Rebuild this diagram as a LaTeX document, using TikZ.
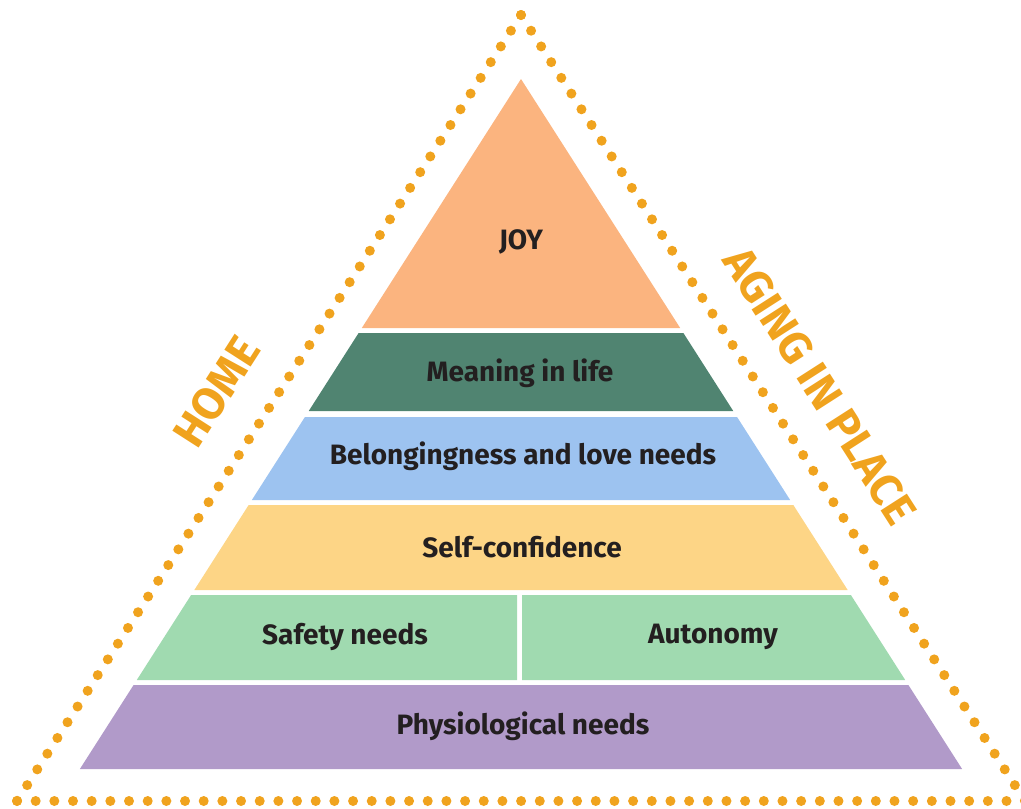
\documentclass[tikz,border=0pt]{standalone}
\usepackage{fontspec}
\setmainfont{Fira Sans}
\usetikzlibrary{positioning, calc}

\definecolor{dotorange}{RGB}{240,163,30}
\definecolor{joycol}{RGB}{251,180,127}
\definecolor{meaningcol}{RGB}{80,132,113}
\definecolor{belongcol}{RGB}{157,195,240}
\definecolor{selfcol}{RGB}{253,213,134}
\definecolor{safetycol}{RGB}{160,218,176}
\definecolor{physcol}{RGB}{177,154,201}
\definecolor{textdark}{RGB}{35,31,32}

\def\slope{0.6393}

\begin{document}
\begin{tikzpicture}[x=1pt, y=-1pt,
    layertext/.style={font=\bfseries\fontsize{28}{32}\selectfont, text=textdark},
    sidelabel/.style={font=\bfseries\fontsize{45}{50}\selectfont, text=dotorange, inner sep=0pt},
    dotline/.style={dotorange, line width=10pt, line cap=round, dash pattern=on 0pt off 18.67pt}]
    \useasboundingbox (0,0) rectangle (1021,809);

    % Dotted frame
    \coordinate (apex) at (521,15);
    \coordinate (bl) at (17,801);
    \coordinate (br) at (1025,801);
    \draw[dotline] (apex) -- (bl);
    \draw[dotline] (apex) -- (br);
    \draw[dotline] (bl) -- (br);

    % Top layer
    \fill[joycol] (521,79) -- ({521+\slope*249},328) -- ({521-\slope*249},328) -- cycle;

    % Full-width layers
    \foreach \ytop/\ybot/\col in {333/411/meaningcol, 417/500/belongcol, 505/590/selfcol, 685/769/physcol}
        \fill[\col] ({521-\slope*(\ytop-79)},\ytop) -- ({521+\slope*(\ytop-79)},\ytop)
            -- ({521+\slope*(\ybot-79)},\ybot) -- ({521-\slope*(\ybot-79)},\ybot) -- cycle;

    % Split layer
    \fill[safetycol] ({521-\slope*516},595) -- (517,595) -- (517,680) -- ({521-\slope*601},680) -- cycle;
    \fill[safetycol] (522,595) -- ({521+\slope*516},595) -- ({521+\slope*601},680) -- (522,680) -- cycle;

    % Layer labels
    \node[layertext] (joy) at (521,242) {JOY};
    \node[layertext] (meaning) at (520,373) {Meaning in life};
    \node[layertext] (belong) at (523,456) {Belongingness and love needs};
    \node[layertext] (selfconf) at (522,547) {Self-confidence};
    \node[layertext] (safety) at (345,637) {Safety needs};
    \node[layertext] (autonomy) at (713,637) {Autonomy};
    \node[layertext] (phys) at (523,726) {Physiological needs};

    % Side labels
    \node[sidelabel, rotate=57.3] (home) at (217,392) {HOME};
    \node[sidelabel, rotate=-57.3] (aging) at (820,386) {AGING IN PLACE};
\end{tikzpicture}
\end{document}
